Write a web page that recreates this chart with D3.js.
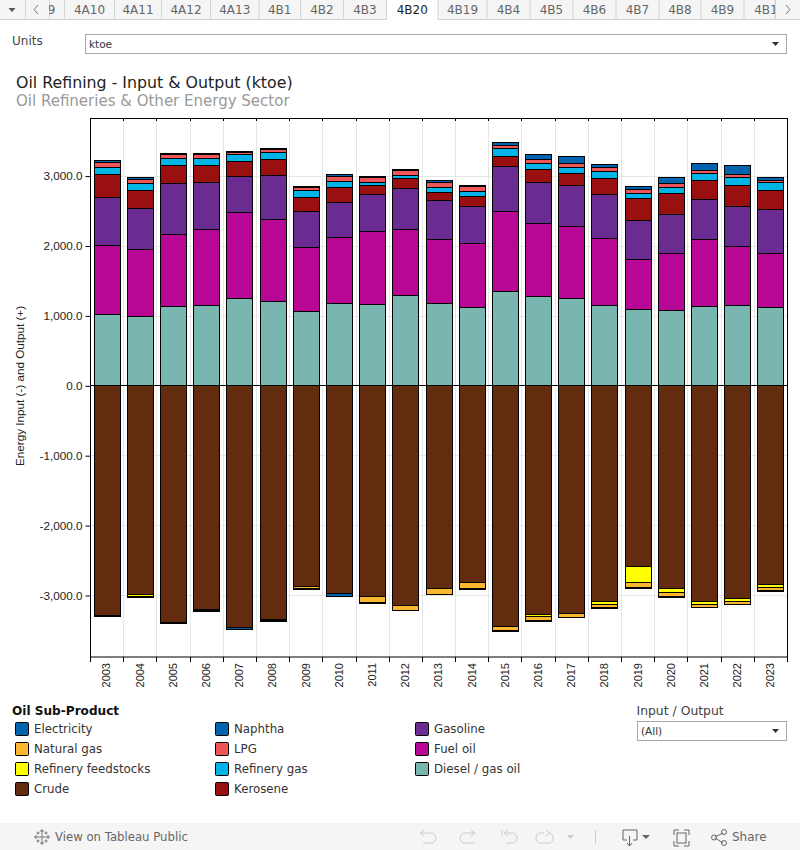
<!DOCTYPE html>
<html><head><meta charset="utf-8">
<script src="https://cdn.jsdelivr.net/npm/d3@7/dist/d3.min.js"></script>
<style>
html,body{margin:0;padding:0;background:#fff}
svg{display:block;font-family:"DejaVu Sans",sans-serif}
</style></head><body>
<svg id="c" width="800" height="850"></svg>
<script>
const years=[2003,2004,2005,2006,2007,2008,2009,2010,2011,2012,2013,2014,2015,2016,2017,2018,2019,2020,2021,2022,2023];
const diesel=[1029,1000,1143,1157,1257,1214,1071,1186,1171,1300,1186,1129,1357,1286,1257,1157,1100,1086,1143,1157,1129];
const fuelOil=[985,957,1028,1086,1229,1172,915,943,1043,943,914,914,1143,1043,1029,957,714,814,957,843,771];
const gasoline=[686,586,729,671,514,628,514,500,529,586,557,528,643,585,585,629,557,557,571,571,629];
const kerosene=[329,257,257,243,214,229,200,214,128,142,114,143,143,186,172,228,315,300,272,300,271];
const refineryGas=[100,100,100,100,100,100,100,86,43,43,72,72,114,86,86,100,71,86,100,115,114];
const lpg=[71,57,57,57,29,43,43,71,72,72,71,71,43,57,57,58,57,57,43,43,29];
const naphtha=[29,29,15,15,14,14,14,29,14,14,29,14,43,71,100,42,43,86,100,128,43];
const crude=[-3286,-2981,-3386,-3200,-3452,-3338,-2867,-2967,-3010,-3138,-2900,-2810,-3438,-3267,-3252,-3081,-2581,-2895,-3081,-3038,-2838];
const feedstocks=[0,-29,0,0,0,0,0,0,0,0,0,0,0,-24,0,-43,-233,-57,-48,-52,-38];
const naturalGas=[0,0,0,-19,0,-24,-24,0,-81,-67,-76,-81,-67,-71,-53,-52,-62,-53,-33,-29,-43];
const electricity=[-14,-14,-14,-14,-38,-14,-14,-47,-14,-14,-14,-14,-14,-14,-14,-14,-14,-14,-14,-14,-14];
const yTicks=[-3000,-2000,-1000,0,1000,2000,3000];
const tabs=["9","4A10","4A11","4A12","4A13","4B1","4B2","4B3","4B20","4B19","4B4","4B5","4B6","4B7","4B8","4B9","4B1"];
const tabEdges=[49,64.5,114.5,161.5,210.5,259,300.5,343.5,386.5,438,487,530,573,616,659,701,744,775];
const activeTab="4B20";
const legendCols=[["Electricity","Natural gas","Refinery feedstocks","Crude"],["Naphtha","LPG","Refinery gas","Kerosene"],["Gasoline","Fuel oil","Diesel / gas oil"]];
const colors={"Electricity":"#0063AE","Natural gas":"#FDB62F","Refinery feedstocks":"#FFFF00","Crude":"#642C0F","Naphtha":"#0063AE","LPG":"#EE5558","Refinery gas":"#00B4E8","Kerosene":"#9A0F10","Gasoline":"#6B2C91","Fuel oil":"#B70794","Diesel / gas oil":"#79B6B0"};
const posSeries=[["Diesel / gas oil",diesel],["Fuel oil",fuelOil],["Gasoline",gasoline],["Kerosene",kerosene],["Refinery gas",refineryGas],["LPG",lpg],["Naphtha",naphtha]];
const negSeries=[["Crude",crude],["Refinery feedstocks",feedstocks],["Natural gas",naturalGas],["Electricity",electricity]];

const svg=d3.select("#c");
const txt=(x,y,s,size,fill,anchor,weight)=>svg.append("text").attr("x",x).attr("y",y).attr("font-size",size).attr("fill",fill||"#333").attr("text-anchor",anchor||"start").attr("font-weight",weight||"normal").text(s);

// tab strip
svg.append("rect").attr("width",800).attr("height",19).attr("fill","#f5f5f5");
svg.append("line").attr("x1",0).attr("x2",800).attr("y1",19.5).attr("y2",19.5).attr("stroke","#d4d4d4");
svg.append("path").attr("d","M8.5 8h7l-3.5 4z").attr("fill","#555");
svg.append("path").attr("d","M38 5l-4 4.5l4 4.5").attr("fill","none").attr("stroke","#777");
svg.append("path").attr("d","M786 5l4 4.5l-4 4.5").attr("fill","none").attr("stroke","#777");
[25,49,775].forEach(x=>svg.append("line").attr("x1",x+.5).attr("x2",x+.5).attr("y1",0).attr("y2",19).attr("stroke","#d4d4d4"));
svg.append("clipPath").attr("id","tabclip").append("rect").attr("x",49).attr("y",0).attr("width",726).attr("height",20);
tabs.forEach((t,i)=>{
  const a=tabEdges[i],b=tabEdges[i+1],act=t===activeTab;
  if(act)svg.append("rect").attr("x",a).attr("y",0).attr("width",b-a).attr("height",20).attr("fill","#fff");
  svg.append("line").attr("x1",b).attr("x2",b).attr("y1",0).attr("y2",act?20:19).attr("stroke","#d4d4d4");
  if(act)svg.append("line").attr("x1",a).attr("x2",a).attr("y1",0).attr("y2",20).attr("stroke","#d4d4d4");
  const cx=i===0?51.5:i===tabs.length-1?766:(a+b)/2;
  txt(cx,14,t,12,act?"#222":"#666","middle").attr("clip-path","url(#tabclip)");
});

// dropdowns
txt(12,45,"Units",12,"#444");
const dropdown=(x,y,w,h,s)=>{
  svg.append("rect").attr("x",x+.5).attr("y",y+.5).attr("width",w).attr("height",h).attr("fill","#fff").attr("stroke","#a9a9a9");
  txt(x+4,y+14,s,10.5,"#333");
  svg.append("path").attr("d",`M${x+w-14} ${y+8}h7l-3.5 4z`).attr("fill","#333");
};
dropdown(85,34,701,19,"ktoe");
dropdown(637,721,149,19,"(All)");

// titles
txt(16,88,"Oil Refining - Input & Output (ktoe)",15.8,"#222");
txt(16,106,"Oil Refineries & Other Energy Sector",15,"#999");

// scales
const x=d3.scaleBand().domain(years).range([90,787]).paddingInner(0.2).paddingOuter(0.1);
const y=d3.scaleLinear().domain([-3880,3817]).range([657,119]);
const edges=d3.range(1,years.length).map(i=>90+i*(697/years.length));
const snap=v=>Math.round(y(v)-.3)+.5;

// grid
svg.append("g").selectAll("line").data(edges).join("line")
 .attr("x1",d=>Math.round(d)+.5).attr("x2",d=>Math.round(d)+.5).attr("y1",119).attr("y2",657).attr("stroke","#e6e6e6");
svg.append("g").selectAll("line").data(yTicks.filter(d=>d!==0)).join("line")
 .attr("x1",90).attr("x2",787).attr("y1",d=>snap(d)).attr("y2",d=>snap(d)).attr("stroke","#e6e6e6");

// stacked bars
const band=x.bandwidth();
const barW=26;
const drawStack=(series)=>{
  years.forEach((yr,i)=>{
    let acc=0;
    series.forEach(([name,vals])=>{
      const v=vals[i]; if(!v)return;
      const a=snap(acc),b=snap(acc+v); acc+=v;
      svg.append("rect").attr("x",Math.round(x(yr)+band/2-barW/2)+.5).attr("y",Math.min(a,b)).attr("width",barW).attr("height",Math.abs(a-b))
        .attr("fill",colors[name]).attr("stroke","#000").attr("stroke-width",1);
    });
  });
};
drawStack(posSeries);
drawStack(negSeries);

// zero line & frame
svg.append("line").attr("x1",90).attr("x2",787).attr("y1",snap(0)).attr("y2",snap(0)).attr("stroke","#000");
svg.append("rect").attr("x",90.5).attr("y",118.5).attr("width",697).attr("height",538.5).attr("fill","none").attr("stroke","#000");

// top and bottom tick marks
[119,657].forEach((py,k)=>svg.append("g").selectAll("line").data([90,...edges,787]).join("line")
 .attr("x1",d=>Math.round(d)+.5).attr("x2",d=>Math.round(d)+.5).attr("y1",py).attr("y2",k?py+5:py+2).attr("stroke","#000"));

// axes
const axisFont="Liberation Sans";
const loc=d3.formatLocale({decimal:".",thousands:",",grouping:[3],currency:["",""],minus:"-"});
const yAxis=svg.append("g").attr("transform","translate(90.5,0)")
  .call(d3.axisLeft(y).tickValues(yTicks).tickSize(5).tickPadding(3).tickFormat(loc.format(",.1f")));
yAxis.select(".domain").remove();
yAxis.selectAll("text").attr("font-size",11.7).attr("font-family",axisFont).attr("fill","#222");
const xAxis=svg.append("g").attr("transform","translate(0,657)")
  .call(d3.axisBottom(x).tickSize(0));
xAxis.select(".domain").remove();
xAxis.selectAll("text").attr("font-size",11).attr("font-family",axisFont).attr("fill","#222")
  .attr("transform","rotate(-90)").attr("text-anchor","end").attr("x",-6).attr("y",0).attr("dy","0.35em");
svg.append("text").attr("transform","translate(24,386) rotate(-90)").attr("text-anchor","middle").attr("font-size",11.7).attr("font-family",axisFont).attr("fill","#222").text("Energy Input (-) and Output (+)");

// legend
txt(12,715,"Oil Sub-Product",12.1,"#111","start","bold");
legendCols.forEach((col,c)=>col.forEach((n,r)=>{
  const lx=15.5+c*200,ly=722.5+r*20;
  svg.append("rect").attr("x",lx).attr("y",ly).attr("width",13).attr("height",13).attr("rx",1).attr("fill",colors[n]).attr("stroke","#000");
  txt(lx+18.5,ly+10,n,11.8,"#333");
}));
txt(636.5,715,"Input / Output",12.4,"#444");

// toolbar
svg.append("rect").attr("y",823).attr("width",800).attr("height",27).attr("fill","#f5f5f5");
const logo=svg.append("g").attr("stroke","#777").attr("fill","none").attr("transform","translate(42,837)");
[[0,0,4],[-6,0,2],[6,0,2],[0,-6,2],[0,6,2],[-4,-4,1.5],[4,-4,1.5],[-4,4,1.5],[4,4,1.5]].forEach(([a,b,r])=>logo.append("path").attr("d",`M${a-r} ${b}h${2*r}M${a} ${b-r}v${2*r}`));
txt(55,841,"View on Tableau Public",11.7,"#666");
const tool=svg.append("g").attr("fill","none").attr("stroke","#ccc");
tool.append("path").attr("d","M421 833h10a5 5 0 0 1 0 10h-8M424 830l-4 3l4 3");
tool.append("path").attr("d","M474 833h-9a5 5 0 0 0 0 10h10M471 830l4 3l-4 3");
tool.append("path").attr("d","M502 830v6M505 833h7a5 5 0 0 1 0 10h-6M508 830l-4 3l4 3");
tool.append("path").attr("d","M544 833h-4a4 5 0 0 0 0 10h9a4 5 0 0 0 0-10M546 830l4 3l-4 3");
svg.append("path").attr("d","M567 835h7l-3.5 4z").attr("fill","#ccc");
svg.append("line").attr("x1",595.5).attr("x2",595.5).attr("y1",830).attr("y2",844).attr("stroke","#ccc");
const dark=svg.append("g").attr("fill","none").attr("stroke","#666");
dark.append("path").attr("d","M627 840h-4v-10h14v10h-4M629.5 836v10M627 843l2.5 3l2.5-3");
svg.append("path").attr("d","M642 835h8l-4 4z").attr("fill","#666");
dark.append("path").attr("d","M674 835v-5h5M684 830h5v5M689 841v5h-5M679 846h-5v-5");
dark.append("rect").attr("x",677).attr("y",833).attr("width",9).attr("height",10);
dark.append("path").attr("d","M715 837l8-4M715 838l8 5");
dark.append("circle").attr("cx",714).attr("cy",837.5).attr("r",2.5);
dark.append("circle").attr("cx",724).attr("cy",832).attr("r",2.5);
dark.append("circle").attr("cx",724).attr("cy",843).attr("r",2.5);
txt(732,841,"Share",12,"#666");
</script>
</body></html>
